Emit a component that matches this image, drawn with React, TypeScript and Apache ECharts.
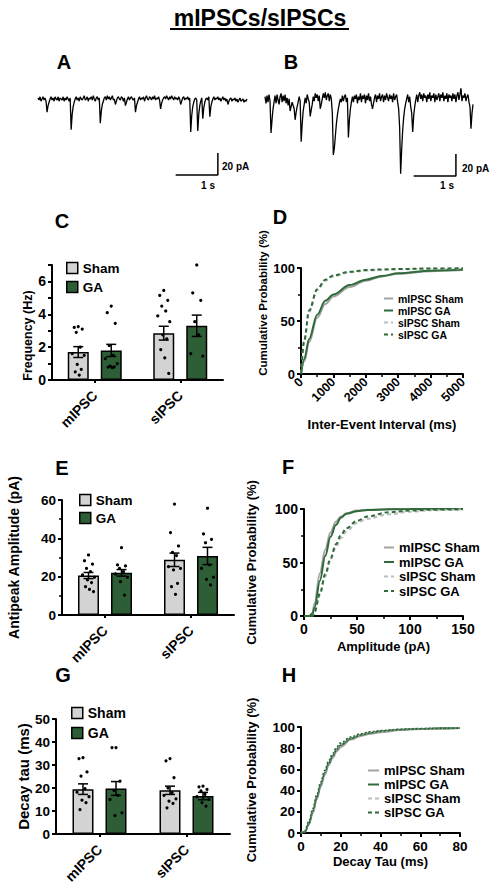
import React, { useEffect, useRef } from "react";
import * as echarts from "echarts";

const FONT = "'Liberation Sans', Arial, Helvetica, sans-serif";
const SHAM_FILL = "#d3d3d3";
const GA_FILL = "#2e5e35";
const LINE_GRAY = "#a3a3a3";
const LINE_GRAY_LIGHT = "#bcbcbc";
const LINE_GREEN = "#2f6b3a";

// ---------- Example traces (pA), one sample ≈ 24 ms (42 samples = 1 s) ----------
const TRACE_A = [
  1, -1, 2, -2, 0, 2, -1, 1, -2, -12,
  -6, -3, 0, 2, -1, 1, -2, 2, 0, -1,
  2, -2, 1, 0, -1, 2, -2, 1, -1, 2,
  0, -2, 1, -28, -14, -7, -3, 0, 2, -1,
  1, -2, 2, 0, -1, 1, 3, -1, 0, 2,
  -2, 1, 0, 2, -1, 3, 0, -2, 1, 2,
  -1, 1, -22, -11, -5, -2, 1, 2, -1, 3,
  0, 2, -1, 1, 3, -1, 0, -5, -2, 1,
  2, 0, -1, 2, 1, -2, 1, -6, -3, 0,
  2, -1, 1, 2, 0, -1, 1, -12, -6, -3,
  0, 2, -1, 1, 0, 2, -2, 1, 3, 0,
  -1, 2, 1, -1, 2, 0, 3, -1, 1, 0,
  2, -1, -9, -4, -1, 1, 2, 0, 3, 1,
  -1, 2, 0, 3, 1, -1, 2, 0, 1, -1,
  2, 0, -5, -2, 1, 2, -1, 1, 0, 2,
  -1, 1, -30, -15, -7, -3, 0, 1, -1, -29,
  -14, -6, -2, 1, -18, -8, -3, 0, 1, -1,
  2, -16, -7, -3, 0, 2, -1, 1, 0, 2,
  -1, 1, -2, 0, 2, -1, 1, -2, 0, -5,
  -2, 0, 1, -2, 0, -1, 1, -2, 0, -3,
  -1, 1, -2, -1, 0, -3, -1, -2, 0,
];
const TRACE_B = [
  3, -3, 4, -2, 5, -1, -30, -18, -8, -2,
  4, -3, 5, 0, -4, 3, 6, -2, 4, -1,
  5, -3, 2, -5, 1, -10, -6, -2, -5, -8,
  -18, -11, -6, -2, 3, -1, -38, -22, -10, -4,
  2, -3, 5, 1, -2, -15, -9, -4, 3, -1,
  6, 2, 5, -1, 4, -8, -4, 1, 6, 2,
  7, 0, 4, 6, -1, 5, 1, -12, -50, -44,
  -33, -22, -14, -8, -3, 1, -2, 4, -1, 3,
  5, -2, 2, -34, -18, -8, -2, 3, -2, 4,
  1, 5, -3, 3, 0, 6, -2, 4, 1, 5,
  -3, 4, 0, 6, -1, 3, -4, -8, -3, 2,
  5, -2, 4, 1, 6, -1, 3, 5, -2, 4,
  0, 6, 2, -1, 5, 1, 4, -2, 6, 0,
  3, 5, -2, -8, -25, -67, -45, -28, -16, -8,
  -3, 1, 5, -2, 3, -6, -12, -29, -14, -6,
  0, 5, -2, 4, 7, 1, 5, -1, 6, 2,
  4, -2, 5, 1, 7, -1, 4, 2, 6, -2,
  5, 0, 3, 6, -1, 5, 2, 7, -1, 4,
  1, 6, -2, 5, 2, 4, -1, 6, 1, 5,
  -2, 4, 7, 0, 5, 11, -1, 4, 2, 6,
  -1, 3, 5, -2, -6, -26, -12, -4,
];
// scale bars: 1 s = 42 samples, 20 pA
const SCALEBAR_A = { x0: 137, y0: -69, oneSecond: 42, twentyPA: 20 };
const SCALEBAR_B = { x0: 148, y0: -69, oneSecond: 42, twentyPA: 20 };

// ---------- Bar panels ----------
const GROUPS = ["mIPSC", "sIPSC"];

const FREQ_SHAM_MEAN = [1.7, 2.85];
const FREQ_SHAM_SEM = [0.33, 0.42];
const FREQ_GA_MEAN = [1.8, 3.3];
const FREQ_GA_SEM = [0.37, 0.65];
const FREQ_SHAM_PTS = [
  [3.25, 3.2, 3.1, 2.9, 2.0, 1.6, 1.5, 0.95, 0.65, 0.5, 0.3],
  [5.45, 5.15, 4.85, 4.5, 4.2, 3.9, 3.55, 2.75, 2.5, 1.85, 1.35, 0.4],
];
const FREQ_GA_PTS = [
  [4.5, 4.1, 3.45, 2.1, 1.5, 1.3, 1.0, 0.85, 0.8, 0.78, 0.75],
  [7.0, 5.3, 4.85, 3.55, 2.75, 1.6, 1.45],
];

const AMP_SHAM_MEAN = [20.6, 28.8];
const AMP_SHAM_SEM = [1.6, 3.5];
const AMP_GA_MEAN = [22.0, 30.8];
const AMP_GA_SEM = [1.7, 4.5];
const AMP_SHAM_PTS = [
  [31.3, 28.3, 26.6, 24.3, 22.6, 20.9, 19.7, 18.3, 16.9, 14.8, 13.4, 12.2],
  [57.9, 43.0, 36.0, 32.7, 31.0, 25.2, 24.3, 23.5, 16.5, 14.8, 10.8],
];
const AMP_GA_PTS = [
  [35.1, 26.1, 25.6, 24.3, 22.6, 21.4, 19.7, 17.4, 10.4],
  [55.7, 42.3, 39.5, 37.7, 26.1, 24.3, 19.7, 18.6, 15.7],
];

const TAU_SHAM_MEAN = [19.5, 19.0];
const TAU_SHAM_SEM = [2.3, 1.8];
const TAU_GA_MEAN = [19.8, 16.5];
const TAU_GA_SEM = [3.0, 1.6];
const TAU_SHAM_PTS = [
  [33.2, 32.8, 27.0, 25.2, 19.7, 18.2, 16.2, 14.7, 13.6, 10.6],
  [32.8, 31.8, 24.5, 20.0, 18.0, 16.8, 15.3, 14.3, 13.3, 11.4],
];
const TAU_GA_PTS = [
  [37.6, 37.6, 23.0, 19.0, 16.8, 15.0, 9.2, 8.0],
  [20.8, 20.5, 19.4, 18.7, 17.2, 16.2, 15.0, 13.6, 12.1],
];

// ---------- Cumulative distributions ----------
const IEI_X = [0, 100, 250, 500, 750, 1000, 1500, 2000, 2500, 3000, 4000, 5000];
const IEI_MIPSC_SHAM = [0, 12, 30, 53, 66, 73, 82, 88, 92, 94.5, 97, 98];
const IEI_MIPSC_GA = [0, 14, 33, 56, 69, 75, 84, 89, 92.5, 95, 97.5, 98.5];
const IEI_SIPSC_SHAM = [0, 30, 58, 79, 88, 92, 96, 97.5, 98.3, 98.8, 99.3, 99.6];
const IEI_SIPSC_GA = [0, 32, 60, 80, 89, 93, 96.5, 98, 98.6, 99, 99.5, 99.7];

const AMP_X = [0, 5, 8, 10, 15, 20, 25, 30, 35, 40, 50, 60, 80, 100, 120, 150];
const AMP_MIPSC_SHAM = [0, 0, 3, 12, 40, 62, 78, 88, 93, 96, 98.5, 99.3, 99.8, 100, 100, 100];
const AMP_MIPSC_GA = [0, 0, 2, 8, 33, 56, 74, 85, 92, 95.5, 98, 99, 99.7, 99.9, 100, 100];
const AMP_SIPSC_SHAM = [0, 0, 0, 4, 20, 37, 52, 64, 73, 79, 87, 91, 95, 97.5, 98.8, 99.6];
const AMP_SIPSC_GA = [0, 0, 0, 4, 21, 39, 54, 67, 76, 82, 89, 93, 97, 98.5, 99.3, 99.8];

const TAU_X = [0, 2, 4, 6, 8, 10, 12, 14, 16, 18, 20, 25, 30, 35, 40, 50, 60, 70, 80];
const TAU_MIPSC_SHAM = [0, 1, 8, 19, 32, 44, 55, 64, 71, 77, 81, 88, 91.5, 93.5, 95, 97, 98, 98.5, 99];
const TAU_MIPSC_GA = [0, 1, 9, 21, 34, 46, 57, 66, 73, 79, 83, 89, 92.5, 94.5, 96, 97.5, 98.3, 98.8, 99];
const TAU_SIPSC_SHAM = [0, 2, 10, 22, 35, 47, 58, 67, 74, 80, 84, 90, 93, 95, 96, 97.5, 98.3, 98.7, 99];
const TAU_SIPSC_GA = [0, 2, 11, 23, 36, 48, 59, 68, 75, 81, 85, 90.5, 93.5, 95.5, 96.5, 97.8, 98.5, 98.8, 99];

const CDF_NAMES = ["mIPSC Sham", "mIPSC GA", "sIPSC Sham", "sIPSC GA"];

// ---------- layout constants ----------
const BAR_W = 21;
const BAR_GAP = 12;
const BAR_OFF = (BAR_W + BAR_GAP) / 2;
const JITTER = [0, -4, 4, -2, 2, -6, 6, -1, 3, -3, 1, 5];

const bold = (size: number) => ({ color: "#000", fontFamily: FONT, fontWeight: "bold" as const, fontSize: size });

const axisLine = { show: true, onZero: false, lineStyle: { color: "#000", width: 2 } };
const axisTick = { show: true, length: 4, lineStyle: { color: "#000", width: 2 } };
const minorTick = { show: true, splitNumber: 2, length: 3, lineStyle: { color: "#000", width: 1.5 } };

function catAxis(gridIndex: number, fontSize: number, margin: number) {
  return {
    gridIndex,
    type: "category",
    data: GROUPS,
    axisLine,
    axisTick: { show: true, alignWithLabel: true, length: 3, lineStyle: { color: "#000", width: 2 } },
    axisLabel: { ...bold(fontSize), rotate: 45, margin },
    splitLine: { show: false },
  };
}

function valAxis(gridIndex: number, min: number, max: number, interval: number, fontSize: number, extra: any = {}) {
  return {
    gridIndex,
    type: "value",
    min,
    max,
    interval,
    axisLine,
    axisTick,
    axisLabel: { ...bold(fontSize), margin: 6 },
    splitLine: { show: false },
    ...extra,
  };
}

function barSeries(name: string, axis: number, means: number[], fill: string) {
  return {
    type: "bar",
    name,
    xAxisIndex: axis,
    yAxisIndex: axis,
    data: means,
    barWidth: BAR_W,
    barGap: `${(BAR_GAP / BAR_W) * 100}%`,
    itemStyle: { color: fill, borderColor: "#000", borderWidth: 1.5 },
    z: 2,
  };
}

function errSeries(axis: number, means: number[], sems: number[], offset: number) {
  return {
    type: "custom",
    name: "err",
    xAxisIndex: axis,
    yAxisIndex: axis,
    data: means.map((m, g) => [g, m - sems[g], m + sems[g]]),
    encode: { x: 0, y: [1, 2] },
    silent: true,
    z: 4,
    renderItem: (_p: any, api: any) => {
      const lo = api.coord([api.value(0), api.value(1)]);
      const hi = api.coord([api.value(0), api.value(2)]);
      const x = lo[0] + offset;
      const hw = 5;
      const st = { stroke: "#000", lineWidth: 1.5 };
      return {
        type: "group",
        children: [
          { type: "line", shape: { x1: x, y1: lo[1], x2: x, y2: hi[1] }, style: st },
          { type: "line", shape: { x1: x - hw, y1: hi[1], x2: x + hw, y2: hi[1] }, style: st },
          { type: "line", shape: { x1: x - hw, y1: lo[1], x2: x + hw, y2: lo[1] }, style: st },
        ],
      };
    },
  };
}

function dotSeries(axis: number, pts: number[][], offset: number) {
  const data: number[][] = [];
  pts.forEach((vals, g) => vals.forEach((v, i) => data.push([g, v, i])));
  return {
    type: "custom",
    name: "dots",
    xAxisIndex: axis,
    yAxisIndex: axis,
    data,
    encode: { x: 0, y: 1 },
    silent: true,
    z: 5,
    renderItem: (_p: any, api: any) => {
      const p = api.coord([api.value(0), api.value(1)]);
      const j = JITTER[api.value(2) % JITTER.length];
      return { type: "circle", shape: { cx: p[0] + offset + j, cy: p[1], r: 1.6 }, style: { fill: "#000" } };
    },
  };
}

function cdfSeries(name: string, axis: number, xs: number[], ys: number[], color: string, dashed: boolean, width: number, dash: number[]) {
  return {
    type: "line",
    name,
    xAxisIndex: axis,
    yAxisIndex: axis,
    data: xs.map((x, i) => [x, ys[i]]),
    symbol: "none",
    showSymbol: false,
    smooth: 0.35,
    smoothMonotone: "x",
    lineStyle: { color, width, type: dashed ? dash : "solid" },
    itemStyle: { color },
    z: 3,
  };
}

function traceSeries(axis: number, vals: number[]) {
  return {
    type: "line",
    xAxisIndex: axis,
    yAxisIndex: axis,
    data: vals.map((v, i) => [i, v]),
    symbol: "none",
    lineStyle: { color: "#000", width: 1.3 },
    silent: true,
  };
}

function scaleBarSeries(axis: number, sb: { x0: number; y0: number; oneSecond: number; twentyPA: number }) {
  return {
    type: "line",
    xAxisIndex: axis,
    yAxisIndex: axis,
    data: [
      [sb.x0, sb.y0],
      [sb.x0 + sb.oneSecond, sb.y0],
      [sb.x0 + sb.oneSecond, sb.y0 + sb.twentyPA],
    ],
    symbol: "none",
    lineStyle: { color: "#000", width: 1.5 },
    silent: true,
  };
}

function barLegend(left: number, top: number, gap: number, fontSize: number) {
  return {
    data: ["Sham", "GA"],
    orient: "vertical",
    left,
    top,
    icon: "rect",
    itemWidth: 11,
    itemHeight: 11,
    itemGap: gap,
    selectedMode: false,
    itemStyle: { borderColor: "#000", borderWidth: 1.5 },
    textStyle: bold(fontSize),
    padding: 0,
  };
}

function lineLegend(left: number, top: number, gap: number, fontSize: number, w: number) {
  return {
    data: CDF_NAMES,
    orient: "vertical",
    left,
    top,
    itemWidth: w,
    itemHeight: 8,
    itemGap: gap,
    selectedMode: false,
    itemStyle: { opacity: 0 },
    textStyle: bold(fontSize),
    padding: 0,
  };
}

const letter = (t: string, x: number, y: number) => ({
  type: "text",
  x,
  y,
  style: { text: t, fill: "#000", font: `bold 20px ${FONT}`, align: "center", verticalAlign: "middle" },
});

function buildOption() {
  const yName = (name: string, gap: number, size: number, pad: number[] = [0, 0, 0, 0]) => ({
    name,
    nameLocation: "middle",
    nameGap: gap,
    nameRotate: 90,
    nameTextStyle: { ...bold(size), padding: pad },
  });
  const xName = (name: string, gap: number, size: number) => ({
    name,
    nameLocation: "middle",
    nameGap: gap,
    nameTextStyle: bold(size),
  });

  return {
    animation: false,
    backgroundColor: "#fff",
    grid: [
      { left: 38, top: 88, width: 209, height: 99 },
      { left: 265, top: 89, width: 208, height: 99 },
      { left: 52, top: 265, width: 171, height: 115 },
      { left: 301, top: 268, width: 162, height: 106 },
      { left: 62, top: 500, width: 172, height: 115 },
      { left: 304, top: 509, width: 159, height: 107 },
      { left: 56, top: 719, width: 174, height: 115 },
      { left: 301, top: 727, width: 159, height: 106 },
    ],
    xAxis: [
      { gridIndex: 0, type: "value", min: 0, max: TRACE_A.length - 1, show: false },
      { gridIndex: 1, type: "value", min: 0, max: TRACE_B.length - 1, show: false },
      catAxis(2, 14, 13),
      valAxis(3, 0, 5000, 1000, 12.5, {
        minorTick,
        axisLabel: { ...bold(12.5), rotate: 45, margin: 6, formatter: (v: number) => String(v) },
        ...xName("Inter-Event Interval (ms)", 44, 13),
      }),
      catAxis(4, 14, 13),
      valAxis(5, 0, 150, 50, 14, { minorTick, ...xName("Amplitude (pA)", 24, 13) }),
      catAxis(6, 14, 13),
      valAxis(7, 0, 80, 20, 13.5, { minorTick, ...xName("Decay Tau (ms)", 22, 13) }),
    ],
    yAxis: [
      { gridIndex: 0, type: "value", min: -80, max: 10, show: false },
      { gridIndex: 1, type: "value", min: -80, max: 10, show: false },
      valAxis(2, 0, 7, 1, 14, {
        axisLabel: { ...bold(14), margin: 6, formatter: (v: number) => (v % 2 === 0 && v < 7 ? String(v) : "") },
        ...yName("Frequency (Hz)", 17, 12.5, [0, 26, 0, 0]),
      }),
      valAxis(3, 0, 100, 50, 13, { minorTick, ...yName("Cumulative Probability (%)", 27, 11.5, [0, 0, 0, 36]) }),
      valAxis(4, 0, 60, 20, 13.5, { minorTick, ...yName("Antipeak Amplitude (pA)", 41, 14) }),
      valAxis(5, 0, 100, 50, 14, { minorTick, ...yName("Cumulative Probability (%)", 46, 13) }),
      valAxis(6, 0, 50, 10, 13.5, { ...yName("Decay tau (ms)", 19, 15) }),
      valAxis(7, 0, 100, 20, 13.5, { ...yName("Cumulative Probability (%)", 43, 13) }),
    ],
    legend: [
      barLegend(66, 261, 5, 13.5),
      lineLegend(383, 293, 1, 10.5, 9),
      barLegend(79, 493, 4, 13.5),
      lineLegend(383, 541, 1.5, 13, 10),
      barLegend(71, 706, 6, 14),
      lineLegend(367, 764, 1, 13, 11),
    ],
    graphic: [
      {
        type: "text",
        x: 260,
        y: 18,
        style: { text: "mIPSCs/sIPSCs", fill: "#000", font: `bold 23px ${FONT}`, align: "center", verticalAlign: "middle" },
      },
      { type: "line", shape: { x1: 170, y1: 29, x2: 349, y2: 29 }, style: { stroke: "#000", lineWidth: 2 } },
      letter("A", 64, 62),
      letter("B", 291, 62),
      letter("C", 62, 221),
      letter("D", 280, 217),
      letter("E", 62, 468),
      letter("F", 288, 467),
      letter("G", 63, 675),
      letter("H", 289, 675),
      { type: "text", x: 222, y: 166, style: { text: "20 pA", fill: "#000", font: `bold 10px ${FONT}`, align: "left", verticalAlign: "middle" } },
      { type: "text", x: 208, y: 185, style: { text: "1 s", fill: "#000", font: `bold 10px ${FONT}`, align: "center", verticalAlign: "middle" } },
      { type: "text", x: 462, y: 168, style: { text: "20 pA", fill: "#000", font: `bold 10px ${FONT}`, align: "left", verticalAlign: "middle" } },
      { type: "text", x: 447, y: 185, style: { text: "1 s", fill: "#000", font: `bold 10px ${FONT}`, align: "center", verticalAlign: "middle" } },
    ],
    series: [
      traceSeries(0, TRACE_A),
      scaleBarSeries(0, SCALEBAR_A),
      traceSeries(1, TRACE_B),
      scaleBarSeries(1, SCALEBAR_B),

      barSeries("Sham", 2, FREQ_SHAM_MEAN, SHAM_FILL),
      barSeries("GA", 2, FREQ_GA_MEAN, GA_FILL),
      errSeries(2, FREQ_SHAM_MEAN, FREQ_SHAM_SEM, -BAR_OFF),
      errSeries(2, FREQ_GA_MEAN, FREQ_GA_SEM, BAR_OFF),
      dotSeries(2, FREQ_SHAM_PTS, -BAR_OFF),
      dotSeries(2, FREQ_GA_PTS, BAR_OFF),

      barSeries("Sham", 4, AMP_SHAM_MEAN, SHAM_FILL),
      barSeries("GA", 4, AMP_GA_MEAN, GA_FILL),
      errSeries(4, AMP_SHAM_MEAN, AMP_SHAM_SEM, -BAR_OFF),
      errSeries(4, AMP_GA_MEAN, AMP_GA_SEM, BAR_OFF),
      dotSeries(4, AMP_SHAM_PTS, -BAR_OFF),
      dotSeries(4, AMP_GA_PTS, BAR_OFF),

      barSeries("Sham", 6, TAU_SHAM_MEAN, SHAM_FILL),
      barSeries("GA", 6, TAU_GA_MEAN, GA_FILL),
      errSeries(6, TAU_SHAM_MEAN, TAU_SHAM_SEM, -BAR_OFF),
      errSeries(6, TAU_GA_MEAN, TAU_GA_SEM, BAR_OFF),
      dotSeries(6, TAU_SHAM_PTS, -BAR_OFF),
      dotSeries(6, TAU_GA_PTS, BAR_OFF),

      cdfSeries(CDF_NAMES[0], 3, IEI_X, IEI_MIPSC_SHAM, LINE_GRAY, false, 2, []),
      cdfSeries(CDF_NAMES[1], 3, IEI_X, IEI_MIPSC_GA, LINE_GREEN, false, 2, []),
      cdfSeries(CDF_NAMES[2], 3, IEI_X, IEI_SIPSC_SHAM, LINE_GRAY_LIGHT, true, 2, [4, 3]),
      cdfSeries(CDF_NAMES[3], 3, IEI_X, IEI_SIPSC_GA, LINE_GREEN, true, 2, [4, 3]),

      cdfSeries(CDF_NAMES[0], 5, AMP_X, AMP_MIPSC_SHAM, LINE_GRAY, false, 2, []),
      cdfSeries(CDF_NAMES[1], 5, AMP_X, AMP_MIPSC_GA, LINE_GREEN, false, 2, []),
      cdfSeries(CDF_NAMES[2], 5, AMP_X, AMP_SIPSC_SHAM, LINE_GRAY_LIGHT, true, 2, [4, 3]),
      cdfSeries(CDF_NAMES[3], 5, AMP_X, AMP_SIPSC_GA, LINE_GREEN, true, 2, [4, 3]),

      cdfSeries(CDF_NAMES[0], 7, TAU_X, TAU_MIPSC_SHAM, LINE_GRAY, false, 1.8, []),
      cdfSeries(CDF_NAMES[1], 7, TAU_X, TAU_MIPSC_GA, LINE_GREEN, false, 1.8, []),
      cdfSeries(CDF_NAMES[2], 7, TAU_X, TAU_SIPSC_SHAM, LINE_GRAY_LIGHT, true, 1.8, [2, 2]),
      cdfSeries(CDF_NAMES[3], 7, TAU_X, TAU_SIPSC_GA, LINE_GREEN, true, 1.8, [2, 2]),
    ],
  };
}

export default function App() {
  const ref = useRef<HTMLDivElement>(null);
  useEffect(() => {
    if (!ref.current) return;
    const chart = echarts.init(ref.current, undefined, { renderer: "svg" });
    chart.setOption(buildOption() as any);
    return () => chart.dispose();
  }, []);
  return (
    <div
      ref={ref}
      style={{ position: "absolute", left: 0, top: 0, width: 495, height: 889, background: "#fff" }}
    />
  );
}
